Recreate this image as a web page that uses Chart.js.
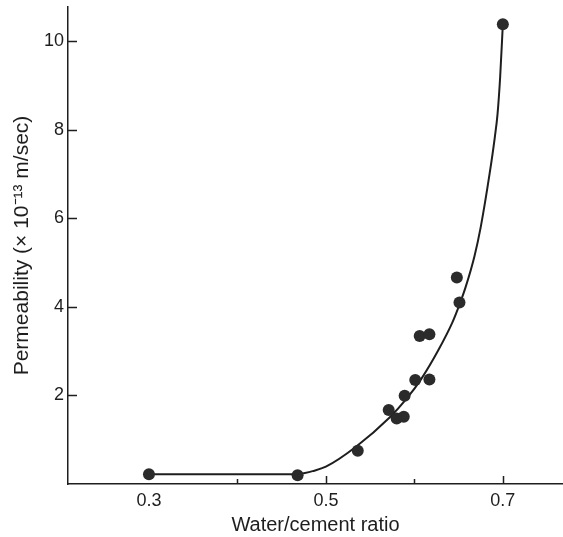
<!DOCTYPE html>
<html>
<head>
<meta charset="utf-8">
<title>Permeability vs water/cement ratio</title>
<script src="https://cdn.jsdelivr.net/npm/chart.js@4/dist/chart.umd.min.js"></script>
<style>
    html, body { margin: 0; padding: 0; background: #ffffff; }
    #wrap { width: 563px; height: 537px; }
</style>
</head>
<body>
<div id="wrap"><canvas id="graficoPermeabilidade"></canvas></div>
<script>
// Medidas (pontos)
const pontosX = [0.300, 0.468, 0.536, 0.571, 0.580, 0.588, 0.589, 0.601, 0.606, 0.617, 0.617, 0.648, 0.651, 0.700];
const pontosY = [0.22, 0.20, 0.75, 1.67, 1.48, 1.52, 1.99, 2.35, 3.34, 3.38, 2.36, 4.66, 4.10, 10.38];

// Curva ajustada: trecho plano até 0.47, depois a subida
const curvaX = [0.300, 0.470, 0.485, 0.500, 0.534, 0.572, 0.591, 0.608, 0.627, 0.643, 0.651, 0.658, 0.668, 0.675, 0.685, 0.691, 0.694, 0.697, 0.700];
const curvaY = [0.22, 0.22, 0.29, 0.39, 0.84, 1.50, 1.92, 2.38, 3.02, 3.65, 4.05, 4.45, 5.15, 5.80, 7.00, 7.84, 8.35, 9.20, 10.38];
const fimTrechoPlano = 1;

// Ticks dos eixos
const ticksX = [0.4, 0.5, 0.6, 0.7];
const rotulosX = [0.3, 0.5, 0.7];
const ticksY = [2, 4, 6, 8, 10];

const corTinta = '#1e1e1e';
const fonte = "'Liberation Sans', Arial, Helvetica, sans-serif";

const pares = (xs, ys) => xs.map((x, i) => ({ x: x, y: ys[i] }));
const curva = pares(curvaX, curvaY);

// Ticks curtos para dentro da área do gráfico
const ticksInternos = {
    id: 'ticksInternos',
    afterDraw(chart) {
        const c = chart.ctx;
        const area = chart.chartArea;
        const sx = chart.scales.x;
        const sy = chart.scales.y;
        c.save();
        c.strokeStyle = corTinta;
        c.lineWidth = 1.5;
        c.beginPath();
        ticksX.forEach(v => {
            const px = Math.round(sx.getPixelForValue(v)) + 0.5;
            const tam = rotulosX.includes(v) ? 8 : 5;
            c.moveTo(px, area.bottom);
            c.lineTo(px, area.bottom - tam);
        });
        ticksY.forEach(v => {
            const py = Math.round(sy.getPixelForValue(v)) + 0.5;
            c.moveTo(area.left, py);
            c.lineTo(area.left + 9, py);
        });
        c.stroke();
        c.restore();
    }
};

const estiloLinha = {
    showLine: true,
    borderColor: corTinta,
    borderWidth: 2,
    pointRadius: 0,
    cubicInterpolationMode: 'monotone',
    order: 2
};

const ctx = document.getElementById('graficoPermeabilidade').getContext('2d');
const grafico = new Chart(ctx, {
    type: 'scatter',
    data: {
        datasets: [{
            label: 'Trecho plano',
            data: curva.slice(0, fimTrechoPlano + 1),
            ...estiloLinha
        }, {
            label: 'Curva',
            data: curva.slice(fimTrechoPlano),
            ...estiloLinha
        }, {
            label: 'Medidas',
            data: pares(pontosX, pontosY),
            showLine: false,
            backgroundColor: '#2b2b2b',
            borderColor: '#2b2b2b',
            borderWidth: 0,
            pointRadius: 6,
            order: 1
        }]
    },
    options: {
        responsive: true,
        maintainAspectRatio: false,
        animation: false,
        layout: {
            autoPadding: false,
            padding: { top: 7, right: 0, left: 0, bottom: 0 }
        },
        plugins: {
            legend: { display: false },
            tooltip: { enabled: false }
        },
        scales: {
            x: {
                type: 'linear',
                min: 0.2085,
                max: 0.768,
                afterBuildTicks: (scale) => {
                    scale.ticks = rotulosX.map(v => ({ value: v }));
                },
                afterFit: (scale) => {
                    scale.height = 53;
                    scale.paddingLeft = 0;
                    scale.paddingRight = 0;
                },
                grid: { drawOnChartArea: false, drawTicks: false },
                border: { display: true, color: corTinta, width: 1.5 },
                ticks: {
                    padding: 6,
                    color: corTinta,
                    font: { family: fonte, size: 18 },
                    callback: (v) => v.toFixed(1)
                },
                title: {
                    display: true,
                    text: 'Water/cement ratio',
                    color: corTinta,
                    font: { family: fonte, size: 20 },
                    padding: { top: 2, bottom: 0 }
                }
            },
            y: {
                type: 'linear',
                min: 0,
                max: 10.77,
                afterBuildTicks: (scale) => {
                    scale.ticks = ticksY.map(v => ({ value: v }));
                },
                afterFit: (scale) => {
                    scale.width = 68;
                    scale.paddingTop = 0;
                    scale.paddingBottom = 0;
                },
                grid: { drawOnChartArea: false, drawTicks: false },
                border: { display: true, color: corTinta, width: 1.5 },
                ticks: {
                    padding: 4,
                    color: corTinta,
                    font: { family: fonte, size: 18 }
                },
                title: {
                    display: true,
                    text: 'Permeability (× 10⁻¹³ m/sec)',
                    color: corTinta,
                    font: { family: fonte, size: 21 },
                    padding: { top: 10, bottom: 4 }
                }
            }
        }
    },
    plugins: [ticksInternos]
});
</script>
</body>
</html>
